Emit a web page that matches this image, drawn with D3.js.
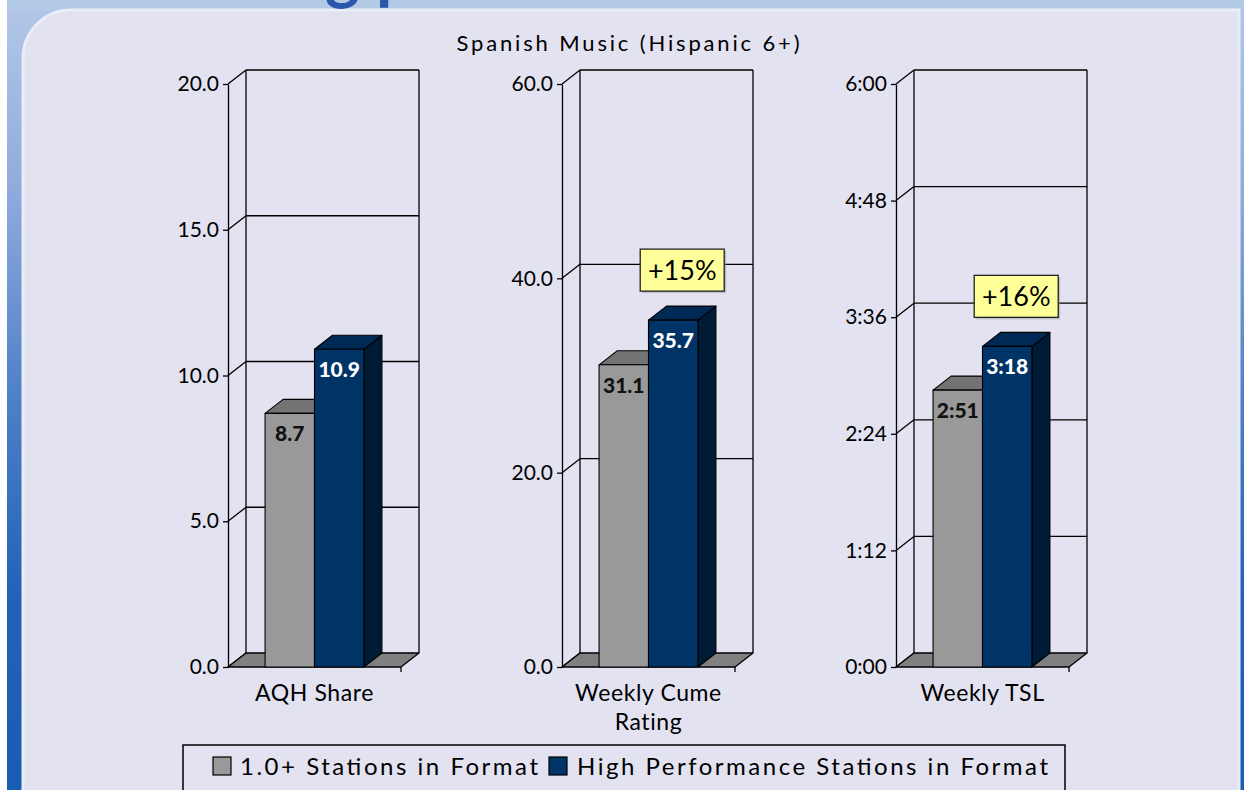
<!DOCTYPE html>
<html>
<head>
<meta charset="utf-8">
<script src="https://cdn.jsdelivr.net/npm/d3@7"></script>
<style>
  body { margin: 0; background: #ffffff; }
  svg { display: block; }
  text { font-family: Lato, "Open Sans", sans-serif; }
</style>
</head>
<body>
<svg id="chart" width="1244" height="790"></svg>
<script>
// ---- data ----
const categories = [["AQH Share"], ["Weekly Cume", "Rating"], ["Weekly TSL"]];
const seriesNames = ["1.0+ Stations in Format", "High Performance Stations in Format"];
const allStationValues = [8.7, 31.1, 171];      // TSL in minutes (2:51)
const highPerformanceValues = [10.9, 35.7, 198]; // TSL in minutes (3:18)
const axisMax = [20, 60, 360];
const axisTicks = [[0, 5, 10, 15, 20], [0, 20, 40, 60], [0, 72, 144, 216, 288, 360]];
const changeLabels = [null, "+15%", "+16%"];
const chartTitle = "Spanish Music (Hispanic 6+)";
const slideTitle = "Listening profile";

// ---- setup ----
const W = 1244, H = 790;
const svg = d3.select("#chart");
const defs = svg.append("defs");

const edgeGrad = defs.append("linearGradient").attr("id", "edgeGrad")
  .attr("x1", 0).attr("y1", 0).attr("x2", 0).attr("y2", 1);
[[0, "#b3c8e8"], [0.25, "#8ea9dc"], [0.5, "#4f80c8"], [0.75, "#2263b7"], [1, "#1a5cb2"]]
  .forEach(([o, c]) => edgeGrad.append("stop").attr("offset", o).attr("stop-color", c));

// slide background
svg.append("rect").attr("width", W).attr("height", H).attr("fill", "#ffffff");
svg.append("rect").attr("x", 7).attr("y", 0).attr("width", W - 7).attr("height", H)
  .attr("fill", "url(#edgeGrad)");
svg.append("rect").attr("x", 7).attr("y", 0).attr("width", W - 7).attr("height", 10)
  .attr("fill", "#b3cae7");

// content panel with rounded top-left corner
svg.append("path")
  .attr("d", `M23,${H + 5} V58 A48,48 0 0 1 71,10 H1239 V${H + 5} Z`)
  .attr("fill", "#e2e2f0")
  .attr("stroke", "#eaedf8")
  .attr("stroke-width", 3);

// slide heading (runs above the visible area)
const heading = svg.append("text")
  .attr("y", -4)
  .attr("font-family", "'Open Sans', sans-serif")
  .attr("font-weight", 700)
  .attr("font-size", 66)
  .attr("fill", "#2b56ab")
  .text(slideTitle);
const gIndex = slideTitle.indexOf("g");
const gOffset = heading.node().getSubStringLength(0, gIndex);
heading.attr("x", 325 - gOffset);

// chart title
svg.append("text")
  .attr("x", 628).attr("y", 51)
  .attr("text-anchor", "middle")
  .attr("font-size", 22)
  .attr("textLength", 343).attr("lengthAdjust", "spacing")
  .attr("fill", "#000")
  .text(chartTitle);

// ---- 3D column panels ----
const depthX = 18, depthY = -14;
const yBase = 667, yTop = 84;
const lineW = 1.3;

const panelX = d3.scaleBand().domain(d3.range(categories.length))
  .range([228, 1069]).paddingInner(0.482).paddingOuter(0);
const w = panelX.bandwidth();

const seriesColors = {
  front: ["#999999", "#003366"],
  top:   ["#737373", "#002a56"],
  side:  ["#5c5c5c", "#001b36"],
  label: ["#111111", "#ffffff"]
};

const fmtOne = d3.format(".1f");
const fmtMin = m => Math.floor(m / 60) + ":" + d3.format("02")(Math.round(m % 60));
const formats = [fmtOne, fmtOne, fmtMin];

categories.forEach((cat, i) => {
  const g = svg.append("g").attr("transform", `translate(${panelX(i)},0)`);
  const y = d3.scaleLinear().domain([0, axisMax[i]]).range([yBase, yTop]);
  const x = d3.scaleBand().domain(seriesNames).range([0, w]).paddingInner(0).paddingOuter(0.75);
  const ticks = axisTicks[i];

  const lines = g.append("g").attr("stroke", "#000").attr("stroke-width", lineW).attr("fill", "none");

  // back wall gridlines
  lines.selectAll("line.grid").data(ticks.filter(t => t > 0)).join("line")
    .attr("class", "grid")
    .attr("x1", depthX).attr("x2", w + depthX)
    .attr("y1", d => y(d) + depthY).attr("y2", d => y(d) + depthY);

  // side wall diagonals
  lines.selectAll("line.diag").data(ticks).join("line")
    .attr("class", "diag")
    .attr("x1", 0).attr("y1", d => y(d))
    .attr("x2", depthX).attr("y2", d => y(d) + depthY);

  // back wall verticals
  [depthX, w + depthX].forEach(xx => {
    lines.append("line")
      .attr("x1", xx).attr("x2", xx)
      .attr("y1", y(axisMax[i]) + depthY).attr("y2", y(0) + depthY);
  });

  // floor
  g.append("path")
    .attr("d", `M0,${y(0)} H${w} L${w + depthX},${y(0) + depthY} H${depthX} Z`)
    .attr("fill", "#808080").attr("stroke", "#000").attr("stroke-width", lineW)
    .attr("stroke-linejoin", "round");

  // right end tick of category axis
  g.append("line")
    .attr("x1", w).attr("x2", w).attr("y1", y(0)).attr("y2", y(0) + 5)
    .attr("stroke", "#000").attr("stroke-width", lineW);

  // bars
  const vals = [allStationValues[i], highPerformanceValues[i]];
  seriesNames.forEach((s, k) => {
    const x0 = x(s), x1 = x0 + x.bandwidth(), yt = y(vals[k]), y0 = y(0);
    const bar = g.append("g").attr("stroke", "#000").attr("stroke-width", 1.1)
      .attr("stroke-linejoin", "round");
    bar.append("path")
      .attr("d", `M${x1},${yt} L${x1 + depthX},${yt + depthY} L${x1 + depthX},${y0 + depthY} L${x1},${y0} Z`)
      .attr("fill", seriesColors.side[k]);
    bar.append("path")
      .attr("d", `M${x0},${yt} L${x0 + depthX},${yt + depthY} L${x1 + depthX},${yt + depthY} L${x1},${yt} Z`)
      .attr("fill", seriesColors.top[k]);
    bar.append("rect")
      .attr("x", x0).attr("y", yt).attr("width", x1 - x0).attr("height", y0 - yt)
      .attr("fill", seriesColors.front[k]);
  });

  // value labels
  seriesNames.forEach((s, k) => {
    g.append("text")
      .attr("x", x(s) + x.bandwidth() / 2)
      .attr("y", y(vals[k]) + 28)
      .attr("text-anchor", "middle")
      .attr("font-size", 21).attr("font-weight", 900)
      .attr("fill", seriesColors.label[k])
      .text(formats[i](vals[k]));
  });

  // change callout
  if (changeLabels[i]) {
    const s = seriesNames[1];
    const cx = x(s) + x.bandwidth() / 2 + depthX / 2;
    const bottom = y(vals[1]) + depthY - 15;
    const bw = 84, bh = 42;
    g.append("rect")
      .attr("x", cx - bw / 2 + 2).attr("y", bottom - bh + 2)
      .attr("width", bw).attr("height", bh)
      .attr("fill", "#9a9aa8").attr("opacity", 0.5);
    g.append("rect")
      .attr("x", cx - bw / 2).attr("y", bottom - bh)
      .attr("width", bw).attr("height", bh)
      .attr("fill", "#ffff99").attr("stroke", "#222").attr("stroke-width", lineW);
    g.append("text")
      .attr("x", cx).attr("y", bottom - bh / 2 + 9.5)
      .attr("text-anchor", "middle")
      .attr("font-size", 27)
      .attr("fill", "#000")
      .text(changeLabels[i]);
  }

  // value axis
  const axis = g.append("g")
    .call(d3.axisLeft(y).tickValues(ticks).tickFormat(formats[i])
      .tickSize(5).tickSizeOuter(0).tickPadding(4));
  axis.select(".domain").attr("stroke", "#000").attr("stroke-width", lineW);
  axis.selectAll(".tick line").attr("stroke", "#000").attr("stroke-width", lineW);
  axis.selectAll(".tick text")
    .attr("font-family", "Lato, 'Open Sans', sans-serif")
    .attr("font-size", 21).attr("fill", "#000");

  // category label
  const lab = g.append("text")
    .attr("text-anchor", "middle")
    .attr("font-size", 23).attr("letter-spacing", 0.6)
    .attr("fill", "#000");
  cat.forEach((line, j) => {
    lab.append("tspan").attr("x", w / 2).attr("y", 701 + j * 29).text(line);
  });
});

// ---- legend ----
const legend = svg.append("g");
legend.append("rect")
  .attr("x", 183).attr("y", 745).attr("width", 882).attr("height", 70)
  .attr("fill", "#e2e2f0").attr("stroke", "#000").attr("stroke-width", 1.5);
const legendItems = [
  { name: seriesNames[0], color: seriesColors.front[0], sx: 213, tx: 240, tw: 298 },
  { name: seriesNames[1], color: seriesColors.front[1], sx: 549, tx: 577, tw: 471 }
];
legendItems.forEach(d => {
  legend.append("rect")
    .attr("x", d.sx).attr("y", 757).attr("width", 18).attr("height", 18)
    .attr("fill", d.color).attr("stroke", "#000").attr("stroke-width", 1.2);
  legend.append("text")
    .attr("x", d.tx).attr("y", 775)
    .attr("font-size", 24)
    .attr("textLength", d.tw).attr("lengthAdjust", "spacing")
    .attr("fill", "#000")
    .text(d.name);
});
</script>
</body>
</html>
